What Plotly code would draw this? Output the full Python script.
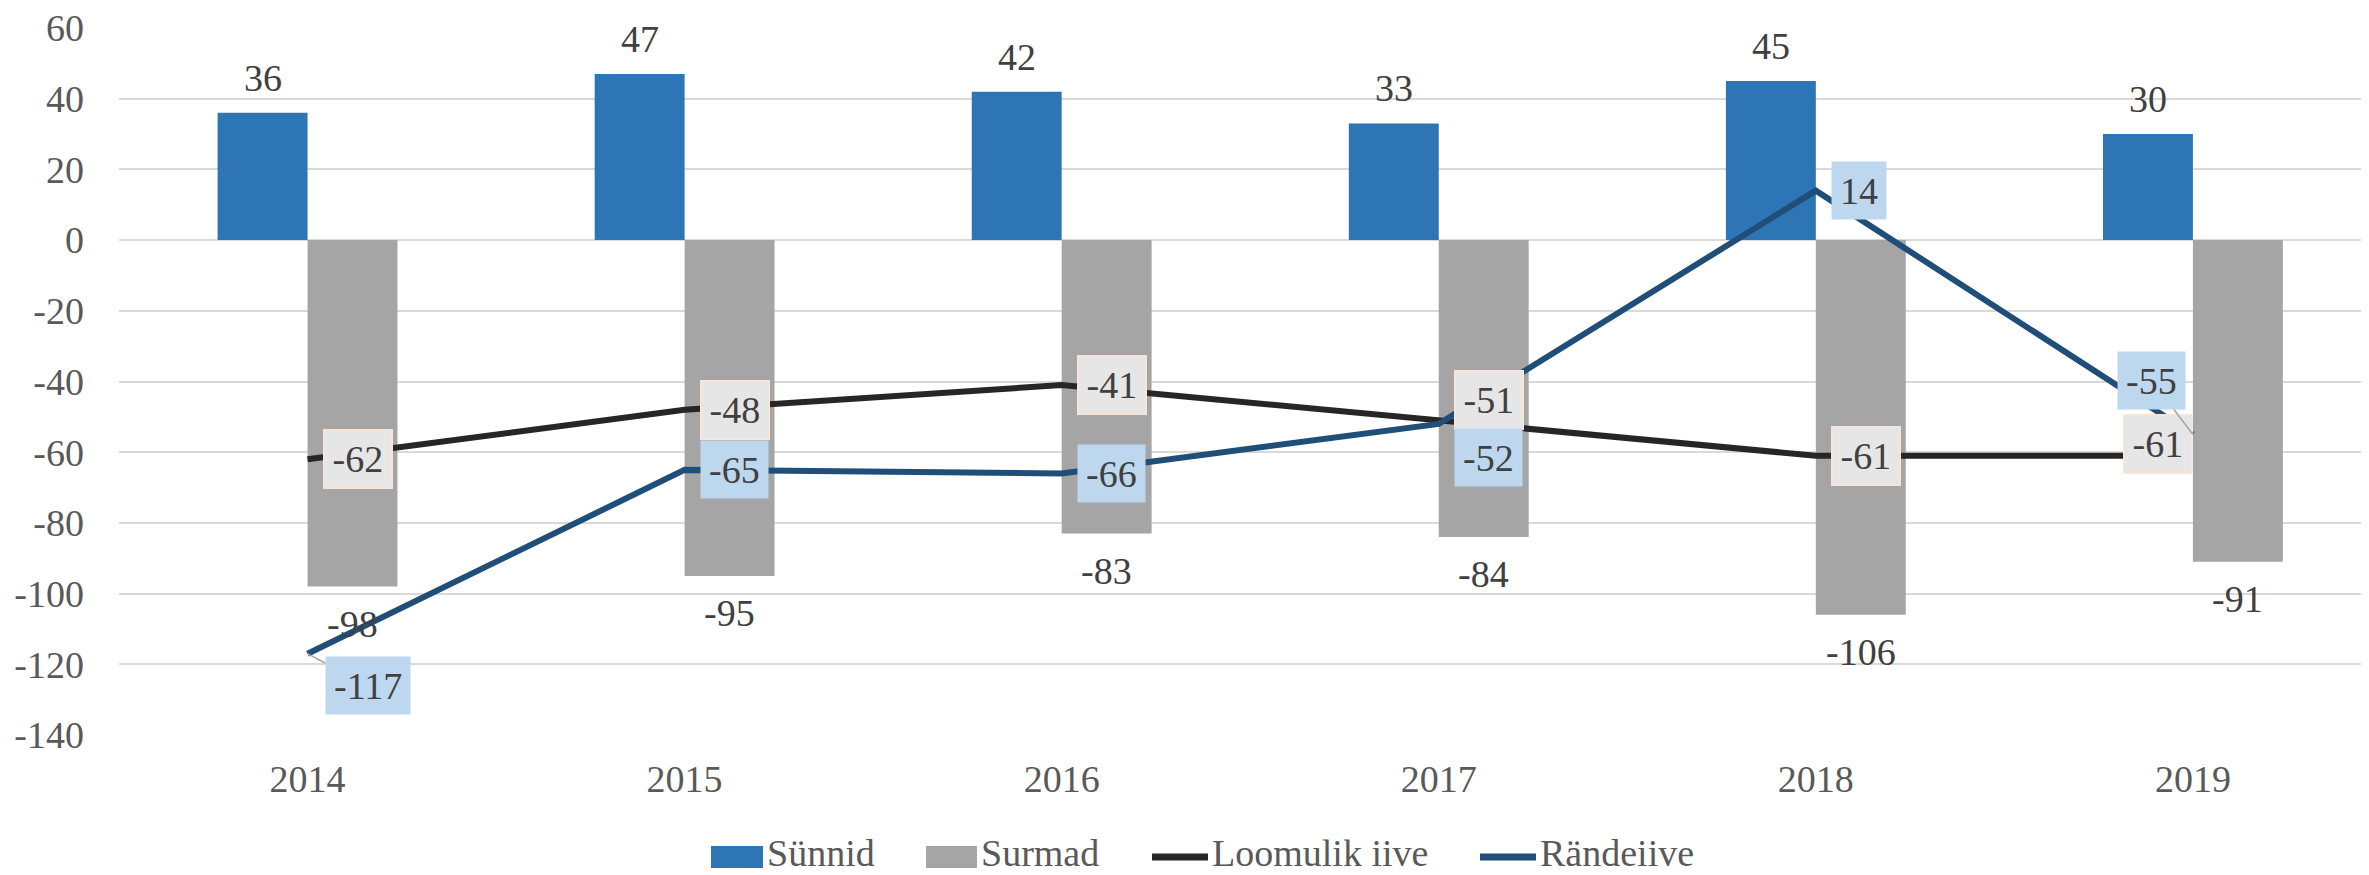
import plotly.graph_objects as go

# data
years = ["2014", "2015", "2016", "2017", "2018", "2019"]
births = [36, 47, 42, 33, 45, 30]              # Sünnid
deaths = [-98, -95, -83, -84, -106, -91]       # Surmad
natural = [-62, -48, -41, -51, -61, -61]       # Loomulik iive
migration = [-117, -65, -66, -52, 14, -55]     # Rändeiive
y_ticks = list(range(-140, 61, 20))

# look (the page body has an 8px margin, so the figure is shrunk by that much)
OFF = 8
W, H = 2369 - OFF, 875 - OFF
ML, MR, MT, MB = 119 - OFF, 0, 28 - OFF, 140
FONT = "Liberation Serif"
FS = 38
C_BIRTH = "#2E75B6"
C_DEATH = "#A5A5A5"
C_NAT = "#262626"
C_MIG = "#1F4E79"
TXT = "#404040"
AXT = "#595959"


def paper_x(p):
    # p is a pixel position in the final screenshot
    return (p - OFF - ML) / (W - ML - MR)


def paper_y(p):
    return (H - MB - (p - OFF)) / (H - MT - MB)


fig = go.Figure()
fig.add_trace(go.Bar(x=years, y=births, name="Sünnid", marker_color=C_BIRTH,
                     marker_line_width=0))
fig.add_trace(go.Bar(x=years, y=deaths, name="Surmad", marker_color=C_DEATH,
                     marker_line_width=0))
fig.add_trace(go.Scatter(x=years, y=natural, name="Loomulik iive", mode="lines",
                         line=dict(color=C_NAT, width=6)))
fig.add_trace(go.Scatter(x=years, y=migration, name="Rändeiive", mode="lines",
                         line=dict(color=C_MIG, width=6)))

ann = []
# bar value labels (x given as category index)
for i, (b, d) in enumerate(zip(births, deaths)):
    ann.append(dict(x=i, y=b, text=str(b), xshift=-45, yshift=35, showarrow=False,
                    yanchor="middle", font=dict(family=FONT, size=FS, color=TXT)))
    ann.append(dict(x=i, y=d, text=str(d), xshift=45, yshift=-37, showarrow=False,
                    yanchor="middle", font=dict(family=FONT, size=FS, color=TXT)))

# boxed line labels: (xanchor, xshift, yshift)
nat_pos = {"2017": ("left", 15, 20), "2019": ("right", 0, 12)}
mig_pos = {"2017": ("left", 15, -34)}
mig_arrow = {"2014": (60, 32), "2019": (-41, -54)}

box = dict(showarrow=False, yanchor="middle", height=41, borderpad=8,
           font=dict(family=FONT, size=FS, color=TXT))
for i, (yr, v) in enumerate(zip(years, natural)):
    xa, xs, ys = nat_pos.get(yr, ("left", 15, 0))
    ann.append(dict(box, x=i, y=v, text=str(v), xanchor=xa, xshift=xs, yshift=ys,
                    bgcolor="#E7E6E6", bordercolor="#FBE5D6", borderwidth=1.5))
for i, (yr, v) in enumerate(zip(years, migration)):
    if yr in mig_arrow:
        axp, ayp = mig_arrow[yr]
        ann.append(dict(box, x=i, y=v, text=str(v), showarrow=True, ax=axp, ay=ayp,
                        arrowhead=0, arrowwidth=1.5, arrowcolor="#A6A6A6", standoff=0,
                        bgcolor="#BDD7EE"))
    else:
        xa, xs, ys = mig_pos.get(yr, ("left", 15, 0))
        ann.append(dict(box, x=i, y=v, text=str(v), xanchor=xa, xshift=xs, yshift=ys,
                        bgcolor="#BDD7EE"))

# legend drawn by hand so the keys have Excel-like sizes
shapes = []
leg_y = 857
legend_items = [
    ("Sünnid", "rect", C_BIRTH, 711, 763),
    ("Surmad", "rect", C_DEATH, 926, 977),
    ("Loomulik iive", "line", C_NAT, 1152, 1208),
    ("Rändeiive", "line", C_MIG, 1480, 1536),
]
for label, kind, col, x0, x1 in legend_items:
    if kind == "rect":
        shapes.append(dict(type="rect", xref="paper", yref="paper",
                           x0=paper_x(x0), x1=paper_x(x1),
                           y0=paper_y(leg_y + 11), y1=paper_y(leg_y - 11),
                           fillcolor=col, line_width=0))
    else:
        shapes.append(dict(type="line", xref="paper", yref="paper",
                           x0=paper_x(x0), x1=paper_x(x1),
                           y0=paper_y(leg_y), y1=paper_y(leg_y),
                           line=dict(color=col, width=7)))
    ann.append(dict(xref="paper", yref="paper", x=paper_x(x1 + 2), y=paper_y(leg_y - 4),
                    text=label, showarrow=False, xanchor="left", yanchor="middle",
                    font=dict(family=FONT, size=FS, color=AXT)))

fig.update_layout(
    width=W, height=H,
    margin=dict(l=ML, r=MR, t=MT, b=MB),
    paper_bgcolor="white", plot_bgcolor="white",
    barmode="group", bargap=0.523, bargroupgap=0,
    showlegend=False,
    annotations=ann, shapes=shapes,
    font=dict(family=FONT, size=FS, color=AXT),
)
fig.update_xaxes(type="category", range=[-0.5, 5.467], showgrid=False, showline=False,
                 zeroline=False, ticks="", ticklabelstandoff=18,
                 tickfont=dict(family=FONT, size=FS, color=AXT))
fig.update_yaxes(range=[-140, 60], tickvals=y_ticks, ticktext=[str(t) for t in y_ticks],
                 showgrid=True, gridcolor="#D9D9D9", gridwidth=1.5, zeroline=False,
                 showline=False, ticks="", ticklabelstandoff=34,
                 ticklabeloverflow="allow",
                 tickfont=dict(family=FONT, size=FS, color=AXT))

fig.write_html("out.html")
